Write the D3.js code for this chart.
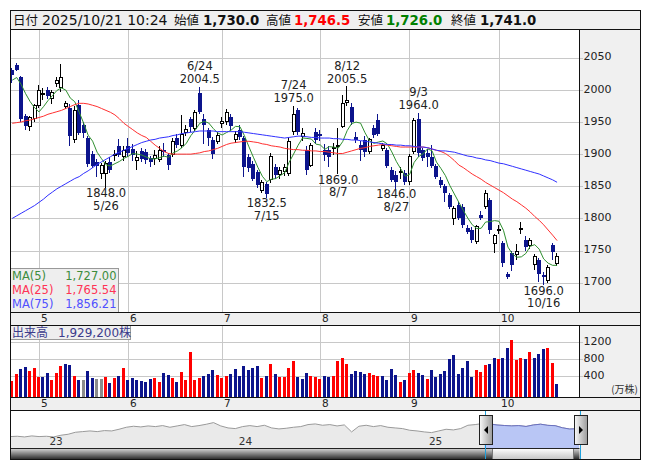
<!DOCTYPE html>
<html>
<head>
<meta charset="utf-8">
<script src="https://cdn.jsdelivr.net/npm/d3@7/dist/d3.min.js"></script>
<style>
  body { margin: 0; background: #fff; }
  text { font-family: "DejaVu Sans", Verdana, sans-serif; }
  .jp { font-family: "Noto Sans CJK JP", sans-serif; }
</style>
</head>
<body>
<div id="chart"></div>
<script>
// daily candles, 2025
var year = 2025;
var lastTime = "10:24";
var days = [
  "4/22","4/23","4/24","4/25","4/28","4/30",
  "5/1","5/2","5/7","5/8","5/9","5/12","5/13","5/14","5/15","5/16","5/19","5/20","5/21","5/22","5/23","5/26","5/27","5/28","5/29","5/30",
  "6/2","6/3","6/4","6/5","6/6","6/9","6/10","6/11","6/12","6/13","6/16","6/17","6/18","6/19","6/20","6/23","6/24","6/25","6/26","6/27","6/30",
  "7/1","7/2","7/3","7/4","7/7","7/8","7/9","7/10","7/11","7/14","7/15","7/16","7/17","7/18","7/22","7/23","7/24","7/25","7/28","7/29","7/30","7/31",
  "8/1","8/4","8/5","8/6","8/7","8/8","8/12","8/13","8/14","8/15","8/18","8/19","8/20","8/21","8/22","8/25","8/26","8/27","8/28","8/29",
  "9/1","9/2","9/3","9/4","9/5","9/8","9/9","9/10","9/11","9/12","9/16","9/17","9/18","9/19","9/22","9/24","9/25","9/26","9/29","9/30",
  "10/1","10/2","10/3","10/6","10/7","10/8","10/9","10/10","10/14","10/15","10/16","10/17","10/20","10/21"
];
var open = [
  2031,2038,2020,1960,1943,1955,
  1975,1993,2000,1986,2010,2003,1974,1972,1922,1977,
  1945,1925,1900,1888,1870,1870,1888,1898,1912,1896,
  1912,1908,1890,1905,1904,1894,1893,1891,1906,1899,
  1899,1925,1914,1933,1954,1940,1995,1955,1937,1922,
  1920,1948,1950,1958,1922,1938,1925,1895,1885,1872,
  1843,1853,1860,1880,1868,1873,1870,1935,1969,1927,
  1906,1883,1935,1932,1906,1906,1909,1912,1943,1980,
  1974,1927,1914,1922,1904,1941,1953,1909,1906,1875,
  1868,1871,1871,1857,1904,1955,1906,1902,1896,1881,
  1860,1850,1836,1800,1821,1818,1785,1782,1764,1805,
  1818,1828,1761,1781,1761,1714,1746,1744,1784,1766,
  1758,1728,1735,1712,1704,1758,1730
];
var high = [
  2034,2041,2022,1962,1960,1978,
  2008,2003,2004,2000,2020,2040,1982,1978,1975,1984,
  1950,1928,1905,1892,1886,1890,1895,1906,1923,1912,
  1925,1915,1905,1910,1908,1897,1906,1912,1918,1902,
  1925,1932,1961,1945,1958,1968,2004.5,1962,1940,1926,
  1935,1958,1970,1962,1936,1945,1928,1900,1890,1876,
  1860,1856,1902,1885,1880,1884,1925,1975,1972,1940,
  1912,1918,1940,1938,1915,1912,1918,1940,1992,2005.5,
  1980,1935,1920,1928,1925,1945,1962,1918,1910,1880,
  1873,1880,1875,1900,1956,1964,1910,1908,1914,1885,
  1865,1854,1840,1820,1826,1822,1790,1786,1790,1812,
  1844,1832,1776,1790,1765,1717,1750,1760,1795,1772,
  1770,1745,1738,1716,1728,1762,1746.5
];
var low = [
  2010,2029,1950,1938,1936,1950,
  1972,1984,1985,1978,2005,1996,1970,1913,1918,1930,
  1925,1880,1878,1865,1862,1848,1870,1890,1895,1890,
  1895,1890,1875,1888,1885,1880,1883,1888,1895,1876,
  1895,1910,1910,1928,1935,1936,1962,1915,1912,1893,
  1915,1940,1945,1938,1918,1922,1865,1872,1858,1848,
  1840,1832.5,1855,1862,1862,1866,1866,1930,1930,1920,
  1868,1880,1915,1920,1890,1880,1898,1869,1940,1975,
  1945,1918,1890,1895,1900,1925,1928,1905,1878,1856,
  1846,1862,1852,1852,1900,1895,1890,1880,1878,1862,
  1848,1826,1815,1790,1798,1785,1775,1762,1760,1798,
  1815,1775,1746,1775,1725,1706,1718,1735,1775,1750,
  1752,1720,1701,1696,1700,1735,1726
];
var close = [
  2023,2031,1955,1943,1957,1975,
  1999,1995,1990,1996,2015,2019,1978,1928,1968,1933,
  1933,1885,1882,1882,1882,1886,1876,1900,1899,1906,
  1902,1898,1895,1892,1891,1887,1898,1905,1903,1883,
  1920,1914,1930,1938,1942,1964,1966,1945,1925,1900,
  1929,1950,1964,1943,1930,1926,1880,1878,1862,1852,
  1856,1838,1896,1868,1874,1879,1919,1961,1935,1932,
  1875,1914,1922,1928,1899,1895,1911,1914,1979,1984,
  1950,1922,1906,1904,1922,1930,1932,1914,1881,1860,
  1857,1873,1857,1896,1953,1902,1894,1896,1881,1865,
  1852,1839,1818,1816,1800,1790,1779,1766,1787,1801,
  1839,1782,1774,1782,1730,1709,1728,1749,1785,1756,
  1765,1741,1714,1709,1723,1748,1741
];
// closes of the four sessions before 4/22 (for MA5 and the first change)
var closesBefore = [2010, 2009, 2015, 2018];
// volume, 10k shares
var volume = [
  264,448,567,608,519,584,
  383,383,479,304,479,639,686,662,400,304,
  304,519,345,328,328,376,233,345,400,591,
  297,352,304,281,257,328,345,240,472,424,
  352,257,496,304,973,304,352,407,448,543,
  431,352,400,448,567,400,639,543,591,639,
  352,400,686,448,376,376,591,758,376,328,
  472,400,376,328,400,376,400,758,830,694,
  448,519,496,448,472,424,400,400,304,567,
  424,257,304,472,543,472,424,328,543,376,
  448,519,806,901,448,591,758,376,543,496,
  662,686,830,806,830,1069,1260,782,830,806,
  973,830,925,1045,1069,710,192.92
];
// 25 and 75 day moving averages
var ma25 = [
  1948,1949,1950,1952,1953,1955,
  1957,1959,1962,1964,1966,1968,1971,1974,1977,1979,
  1979,1978,1976,1974,1971,1968,1965,1961,1955,1948,
  1943,1938,1933,1929,1926,1920,1914,1909,1904,1901,
  1900,1900,1900,1900,1900,1901,1902,1904,1905,1907,
  1909,1912,1915,1917,1918,1919,1920,1920,1919,1918,
  1916,1915,1913,1912,1911,1909,1908,1907,1907,1906,
  1906,1905,1905,1904,1904,1903,1902,1901,1901,1903,
  1905,1907,1909,1910,1912,1913,1914,1915,1914,1913,
  1912,1911,1911,1911,1911,1911,1911,1910,1908,1906,
  1904,1901,1896,1890,1883,1879,1874,1869,1865,1861,
  1856,1852,1848,1844,1840,1835,1830,1826,1821,1816,
  1810,1803,1797,1790,1782,1774,1765.54
];
var ma75 = [
  1800,1804,1808,1812,1816,1820,
  1825,1830,1836,1841,1846,1850,1854,1858,1862,1865,
  1870,1874,1879,1884,1888,1892,1896,1900,1903,1906,
  1909,1912,1915,1918,1920,1922,1923,1925,1926,1927,
  1929,1930,1932,1933,1934,1935,1936,1936,1936,1936,
  1935,1935,1935,1935,1935,1935,1934,1933,1932,1931,
  1930,1929,1928,1927,1926,1925,1926,1927,1928,1928,
  1927,1926,1926,1925,1925,1925,1924,1924,1923,1923,
  1922,1922,1921,1920,1919,1918,1917,1916,1915,1915,
  1914,1914,1913,1913,1912,1911,1911,1910,1908,1906,
  1905,1905,1904,1903,1901,1899,1897,1896,1894,1893,
  1891,1890,1888,1886,1885,1883,1881,1879,1877,1875,
  1873,1871,1869,1866,1863,1860,1856.21
];
var maPeriods = [5, 25, 75];
// labelled highs and lows
var marks = [
  {day: "5/26", kind: "low"}, {day: "6/24", kind: "high"},
  {day: "7/15", kind: "low"}, {day: "7/24", kind: "high"},
  {day: "8/7", kind: "low"}, {day: "8/12", kind: "high"},
  {day: "8/27", kind: "low"}, {day: "9/3", kind: "high"},
  {day: "10/16", kind: "low"}
];
var priceTicks = [1700, 1750, 1800, 1850, 1900, 1950, 2000, 2050];
var volTicks = [400, 800, 1200];
// overview strip: closes every two weeks from 2022/10/21, last one 2025/10/21
var navStart = new Date(2022, 9, 21);
var navEnd = new Date(2025, 9, 21);
var navClose = [
  1290,1308,1271,1327,1290,1308,1271,1364,1419,1530,
  1567,1604,1567,1623,1604,1697,1808,1864,1827,1882,
  1845,1901,1808,1882,1956,1845,1901,1975,2067,1882,
  1771,1734,1845,1901,1845,1919,1771,1716,1752,1808,
  1845,1956,1993,1919,1956,1882,1938,1549,1864,1919,
  1845,1901,1808,1771,1734,1641,1604,1549,1512,1604,
  1697,1660,1734,1919,1956,2015,1995,1933,1906,1883,
  1900,1852,1935,1979,1914,1896,1779,1709,1723,1741
];

var W = 653, H = 470;
var L = 10.5, R = 640.5, PR = 579.5;
var navy = "#0c148c";

var bars = days.map(function(d, i) {
  return {day: d, o: open[i], h: high[i], l: low[i], c: close[i], v: volume[i],
          prev: i ? close[i - 1] : closesBefore[closesBefore.length - 1]};
});
var allCloses = closesBefore.concat(close);
var ma5 = close.map(function(c, i) { return d3.mean(allCloses.slice(i, i + 5)); });
var maSeries = [ma5, ma25, ma75];
var maColors = ["#2f8f2f", "#ff3030", "#3030ff"];
var maTextColors = ["#3c8c3c", "#ff3355", "#5050ff"];

var svg = d3.select("#chart").append("svg")
  .attr("width", W).attr("height", H);

var defs = svg.append("defs");
defs.append("clipPath").attr("id", "clipMain").append("rect")
  .attr("x", L).attr("y", 29.5).attr("width", PR - L).attr("height", 283);
defs.append("clipPath").attr("id", "clipVol").append("rect")
  .attr("x", L).attr("y", 325.5).attr("width", PR - L).attr("height", 72);

var x = d3.scaleBand().domain(days).range([10, 559.3]);
var cx = function(d) { return x(d) + x.bandwidth() / 2; };
var col = function(d) { return Math.round(cx(d)); };
var y = d3.scaleLinear().domain([1700, 2050]).range([282.7, 57.7]);
var yv = d3.scaleLinear().domain([400, 1200]).range([375.8, 342.4]);

// panels
svg.append("rect").attr("x", L).attr("y", 10.5).attr("width", R - L).attr("height", 19).attr("fill", "#efefef");
svg.append("rect").attr("x", PR).attr("y", 29.5).attr("width", R - PR).attr("height", 283).attr("fill", "#f0f0f0");
svg.append("rect").attr("x", PR).attr("y", 325.5).attr("width", R - PR).attr("height", 72).attr("fill", "#f0f0f0");
svg.append("rect").attr("x", L).attr("y", 312.5).attr("width", R - L).attr("height", 13).attr("fill", "#efefef");
svg.append("rect").attr("x", L).attr("y", 397.5).attr("width", R - L).attr("height", 13).attr("fill", "#efefef");
svg.append("rect").attr("x", PR).attr("y", 410.5).attr("width", R - PR).attr("height", 49).attr("fill", "#f0f0f0");

// month starts
var monthStarts = bars.filter(function(b, i) {
  return i > 0 && b.day.split("/")[0] !== bars[i - 1].day.split("/")[0];
});
var gx = function(b) { return Math.floor(cx(b.day)) + 0.5; };

// grid
var grid = svg.append("g").attr("stroke", "#c8c8c8").attr("stroke-width", 1).attr("shape-rendering", "crispEdges");
[[29.5, 312.5], [325.5, 397.5]].forEach(function(r) {
  grid.selectAll(null).data(monthStarts).enter().append("line")
    .attr("x1", gx).attr("x2", gx).attr("y1", r[0]).attr("y2", r[1]);
});
grid.selectAll(null).data(priceTicks).enter().append("line")
  .attr("x1", L).attr("x2", PR + 3).attr("y1", function(d) { return Math.round(y(d)) + 0.5; })
  .attr("y2", function(d) { return Math.round(y(d)) + 0.5; });
grid.selectAll(null).data(volTicks).enter().append("line")
  .attr("x1", L).attr("x2", PR + 3).attr("y1", function(d) { return Math.round(yv(d)) + 0.5; })
  .attr("y2", function(d) { return Math.round(yv(d)) + 0.5; });

// price axis labels
var yAxis = svg.append("g").attr("transform", "translate(" + PR + ",0)")
  .call(d3.axisRight(y).tickValues(priceTicks).tickSize(0).tickPadding(4).tickFormat(d3.format("d")));
yAxis.select(".domain").remove();
yAxis.selectAll("text").attr("font-size", 11).attr("fill", "#222").attr("dy", "0.2em")
  .style("font-family", "DejaVu Sans, Verdana, sans-serif");

var vAxis = svg.append("g").attr("transform", "translate(" + PR + ",0)")
  .call(d3.axisRight(yv).tickValues(volTicks).tickSize(0).tickPadding(4).tickFormat(d3.format("d")));
vAxis.select(".domain").remove();
vAxis.selectAll("text").attr("font-size", 11).attr("fill", "#222").attr("dy", "0.2em")
  .style("font-family", "DejaVu Sans, Verdana, sans-serif");
svg.append("text").attr("class", "jp").attr("x", 638).attr("y", 393).attr("text-anchor", "end")
  .attr("font-size", 10).attr("fill", "#333").text("(万株)");

// month labels
[321.5, 406.5].forEach(function(ty) {
  svg.selectAll(null).data(monthStarts).enter().append("text")
    .attr("x", function(b) { return gx(b) + 1.5; }).attr("y", ty)
    .attr("font-size", 10.5).attr("fill", "#222")
    .text(function(b) { return +b.day.split("/")[0]; });
});

// candles
var main = svg.append("g").attr("clip-path", "url(#clipMain)");
var cg = main.append("g").selectAll("g").data(bars).enter().append("g");
cg.append("line")
  .attr("x1", function(d) { return col(d.day) - 0.5; })
  .attr("x2", function(d) { return col(d.day) - 0.5; })
  .attr("y1", function(d) { return y(d.h); })
  .attr("y2", function(d) { return y(d.l); })
  .attr("stroke", function(d) { return d.c >= d.o ? "#000" : navy; })
  .attr("shape-rendering", "crispEdges");
cg.append("rect")
  .attr("x", function(d) { return d.c >= d.o ? col(d.day) - 1.5 : col(d.day) - 2; })
  .attr("width", function(d) { return d.c >= d.o ? 3 : 4; })
  .attr("y", function(d) { return y(Math.max(d.o, d.c)); })
  .attr("height", function(d) { return Math.max(1, Math.abs(y(d.o) - y(d.c))); })
  .attr("fill", function(d) { return d.c >= d.o ? "#fff" : navy; })
  .attr("stroke", function(d) { return d.c >= d.o ? "#000" : "none"; })
  .attr("shape-rendering", "crispEdges");

// moving averages
maSeries.forEach(function(s, k) {
  main.append("path").datum(s)
    .attr("fill", "none").attr("stroke", maColors[k]).attr("stroke-width", 1)
    .attr("d", d3.line().x(function(v, i) { return cx(days[i]); }).y(function(v) { return y(v); }));
});

// high/low labels
var f1 = d3.format(".1f");
var markG = svg.append("g").attr("font-size", 11.5).attr("fill", "#222").attr("text-anchor", "middle");
marks.forEach(function(m) {
  var b = bars[days.indexOf(m.day)];
  var px = cx(m.day);
  if (m.kind === "high") {
    markG.append("text").attr("x", px).attr("y", y(b.h) - 16.5).text(m.day);
    markG.append("text").attr("x", px).attr("y", y(b.h) - 3.5).text(f1(b.h));
  } else {
    markG.append("text").attr("x", px).attr("y", y(b.l) + 9.5).text(f1(b.l));
    markG.append("text").attr("x", px).attr("y", y(b.l) + 22).text(m.day);
  }
});

// MA legend
svg.append("rect").attr("x", L).attr("y", 268.5).attr("width", 108).attr("height", 44)
  .attr("fill", "#eeeeee").attr("stroke", "#999");
var f2 = d3.format(",.2f");
maPeriods.forEach(function(p, k) {
  var ty = 280 + k * 14;
  svg.append("text").attr("x", 12).attr("y", ty).attr("font-size", 11.5)
    .attr("fill", maTextColors[k]).text("MA(" + p + ")");
  svg.append("text").attr("x", 116.5).attr("y", ty).attr("font-size", 11.5).attr("text-anchor", "end")
    .attr("fill", maTextColors[k]).text(f2(maSeries[k][maSeries[k].length - 1]));
});

// volume
var vg = svg.append("g").attr("clip-path", "url(#clipVol)");
vg.selectAll("rect").data(bars).enter().append("rect")
  .attr("x", function(d) { return col(d.day) - 2; })
  .attr("width", 3)
  .attr("y", function(d) { return yv(d.v); })
  .attr("height", function(d) { return 397.5 - yv(d.v); })
  .attr("fill", function(d) { return d.c > d.prev ? "#ff0000" : d.c < d.prev ? navy : "#8c8c8c"; })
  .attr("shape-rendering", "crispEdges");

svg.append("rect").attr("x", L).attr("y", 325.5).attr("width", 120).attr("height", 14)
  .attr("fill", "#eeeeee").attr("stroke", "#999");
svg.append("text").attr("class", "jp").attr("x", 12).attr("y", 337).attr("font-size", 12)
  .attr("fill", "#3c3c8c").text("出来高");
svg.append("text").attr("x", 58).attr("y", 337).attr("font-size", 12).attr("fill", "#3c3c8c")
  .text(d3.format(",")(Math.round(volume[volume.length - 1] * 10000)))
  .append("tspan").attr("class", "jp").text("株");

// header
var last = bars[bars.length - 1];
var md = last.day.split("/");
var dateStr = year + "/" + ("0" + md[0]).slice(-2) + "/" + ("0" + md[1]).slice(-2) + " " + lastTime;
var hdr = svg.append("g");
function jp(t, px) {
  hdr.append("text").attr("class", "jp").attr("x", px).attr("y", 25).attr("font-size", 12.5)
    .attr("fill", "#111").text(t);
}
function val(t, px, c) {
  hdr.append("text").attr("x", px).attr("y", 25).attr("font-size", 13.3).attr("font-weight", "bold")
    .attr("fill", c).text(t);
}
var f1c = d3.format(",.1f");
jp("日付", 13);
hdr.append("text").attr("x", 42).attr("y", 25).attr("font-size", 14).attr("fill", "#111").text(dateStr);
jp("始値", 174); val(f1c(last.o), 203, "#111");
jp("高値", 266); val(f1c(last.h), 294, "#ff0000");
jp("安値", 358); val(f1c(last.l), 386, "#008000");
jp("終値", 451); val(f1c(last.c), 480, "#111");

// overview strip
var navDates = navClose.map(function(v, k) {
  return k < navClose.length - 1 ? d3.timeDay.offset(navStart, 14 * k) : navEnd;
});
var navData = navClose.map(function(v, k) { return {date: navDates[k], v: v}; });
var navX = d3.scaleTime().domain([navStart, navEnd]).range([10, 579]);
var navY = d3.scaleLinear().domain([1000, 2200]).range([441.8, 420.2]);
var selStart = new Date(year, +days[0].split("/")[0] - 1, +days[0].split("/")[1]);
var sx0 = navX(selStart), sx1 = PR;

defs.append("clipPath").attr("id", "clipSel").append("rect")
  .attr("x", sx0).attr("y", 410).attr("width", sx1 - sx0).attr("height", 40);
defs.append("clipPath").attr("id", "clipNav").append("rect")
  .attr("x", L).attr("y", 410.5).attr("width", PR - L).attr("height", 38);

var area = d3.area().x(function(d) { return navX(d.date); }).y0(448.5).y1(function(d) { return navY(d.v); });
var nline = d3.line().x(function(d) { return navX(d.date); }).y(function(d) { return navY(d.v); });
var ng = svg.append("g").attr("clip-path", "url(#clipNav)");
ng.append("path").datum(navData).attr("d", area).attr("fill", "#eaeaea");
ng.append("path").datum(navData).attr("d", nline).attr("fill", "none").attr("stroke", "#9a9a9a");
var sg = svg.append("g").attr("clip-path", "url(#clipSel)");
sg.append("path").datum(navData).attr("d", area).attr("fill", "#b9c6f5");
sg.append("path").datum(navData).attr("d", nline).attr("fill", "none").attr("stroke", "#6a70c0");

svg.selectAll(null).data(d3.timeYear.range(navStart, navEnd)).enter().append("text")
  .attr("x", function(d) { return navX(d) + 2; }).attr("y", 445).attr("font-size", 10.5).attr("fill", "#333")
  .text(d3.timeFormat("%y"));

// scrollbar
var gDark = defs.append("linearGradient").attr("id", "gDark").attr("x1", 0).attr("x2", 0).attr("y1", 0).attr("y2", 1);
gDark.append("stop").attr("offset", 0).attr("stop-color", "#d6d6d6");
gDark.append("stop").attr("offset", 1).attr("stop-color", "#262626");
var gThumb = defs.append("linearGradient").attr("id", "gThumb").attr("x1", 0).attr("x2", 0).attr("y1", 0).attr("y2", 1);
gThumb.append("stop").attr("offset", 0).attr("stop-color", "#ffffff");
gThumb.append("stop").attr("offset", 1).attr("stop-color", "#c4c4c4");
var gHandle = defs.append("linearGradient").attr("id", "gHandle").attr("x1", 0).attr("x2", 1).attr("y1", 0).attr("y2", 0);
gHandle.append("stop").attr("offset", 0).attr("stop-color", "#fafafa");
gHandle.append("stop").attr("offset", 1).attr("stop-color", "#9a9a9a");

svg.append("rect").attr("x", L).attr("y", 448.5).attr("width", PR - L).attr("height", 11).attr("fill", "url(#gDark)");
svg.append("rect").attr("x", sx0 + 8).attr("y", 448.5).attr("width", sx1 - sx0 - 14).attr("height", 11)
  .attr("fill", "url(#gThumb)").attr("stroke", "#777");
svg.append("line").attr("x1", L).attr("x2", PR).attr("y1", 448.5).attr("y2", 448.5).attr("stroke", "#222");

[sx0, sx1].forEach(function(ex) {
  svg.append("line").attr("x1", Math.round(ex) + 0.5).attr("x2", Math.round(ex) + 0.5)
    .attr("y1", 410.5).attr("y2", 459.5).attr("stroke", "#1ea0dc");
});
[[sx0, -1], [sx1, 1]].forEach(function(h) {
  var hx = Math.round(h[0]) - 6 + 0.5;
  svg.append("rect").attr("x", hx).attr("y", 415.5).attr("width", 13).attr("height", 29)
    .attr("fill", "url(#gHandle)").attr("stroke", "#222");
  var mx = hx + 6.5, my = 430;
  svg.append("path").attr("fill", "#000")
    .attr("d", h[1] < 0 ? "M" + (mx + 2) + "," + (my - 4) + "L" + (mx - 2) + "," + my + "L" + (mx + 2) + "," + (my + 4) + "Z"
                        : "M" + (mx - 2) + "," + (my - 4) + "L" + (mx + 2) + "," + my + "L" + (mx - 2) + "," + (my + 4) + "Z");
});

// frame lines
var fr = svg.append("g").attr("stroke", "#111").attr("fill", "none").attr("shape-rendering", "crispEdges");
fr.append("rect").attr("x", L).attr("y", 10.5).attr("width", R - L).attr("height", 449);
[29.5, 312.5, 325.5, 397.5, 410.5].forEach(function(ly) {
  fr.append("line").attr("x1", L).attr("x2", R).attr("y1", ly).attr("y2", ly);
});
fr.append("line").attr("x1", PR).attr("x2", PR).attr("y1", 29.5).attr("y2", 312.5);
fr.append("line").attr("x1", PR).attr("x2", PR).attr("y1", 325.5).attr("y2", 397.5);
</script>
</body>
</html>
